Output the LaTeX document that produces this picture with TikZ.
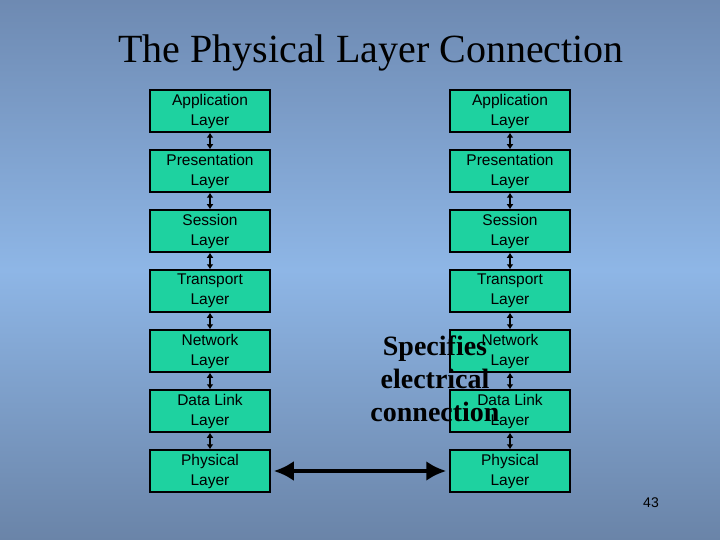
\documentclass[tikz,border=0pt]{standalone}
\usepackage{fontspec}
\setmainfont{Liberation Serif}
\newfontfamily\boxfont{Liberation Sans}
\usetikzlibrary{arrows.meta}
\definecolor{bgtop}{HTML}{6E8AB2}
\definecolor{bgmid}{HTML}{8EB6E6}
\definecolor{bgbot}{HTML}{6A84A8}
\definecolor{boxgreen}{HTML}{1ED2A0}
\begin{document}
\begin{tikzpicture}[x=1pt,y=-1pt,
  layer/.style={draw=black,line width=1.5pt,fill=boxgreen,minimum width=120pt,minimum height=42pt,inner sep=0pt,align=center,font=\boxfont\fontsize{15.5}{20}\selectfont},
  varrow/.style={{Latex[length=5pt,width=7pt]}-{Latex[length=5pt,width=7pt]},line width=2.5pt,black},
  harrow/.style={{Latex[length=20pt,width=20pt]}-{Latex[length=20pt,width=20pt]},line width=4pt,black}]
\shade[top color=bgtop,bottom color=bgbot,middle color=bgmid] (0,0) rectangle (720,540);
\useasboundingbox (0,0) rectangle (720,540);
\node[font=\fontsize{40}{44}\selectfont] (title) at (371,53) {The Physical Layer Connection};
\foreach \i/\t in {0/Application,1/Presentation,2/Session,3/Transport,4/Network,5/Data Link,6/Physical}{
  \node[layer] (L\i) at (210,{111+60*\i}) {\t\\Layer};
  \node[layer] (R\i) at (510,{111+60*\i}) {\t\\Layer};
}
\foreach \i [evaluate=\i as \j using int(\i+1)] in {0,...,5}{
  \draw[varrow] (L\i) -- (L\j);
  \draw[varrow] (R\i) -- (R\j);
}
\draw[harrow] ([xshift=3pt]L6.east) -- ([xshift=-3pt]R6.west);
\node[font=\bfseries\fontsize{28}{33}\selectfont,align=center] (spec) at (435,379) {Specifies\\electrical\\connection};
\node[font=\boxfont\fontsize{14}{16}\selectfont] (pg) at (651,503) {43};
\end{tikzpicture}
\end{document}
